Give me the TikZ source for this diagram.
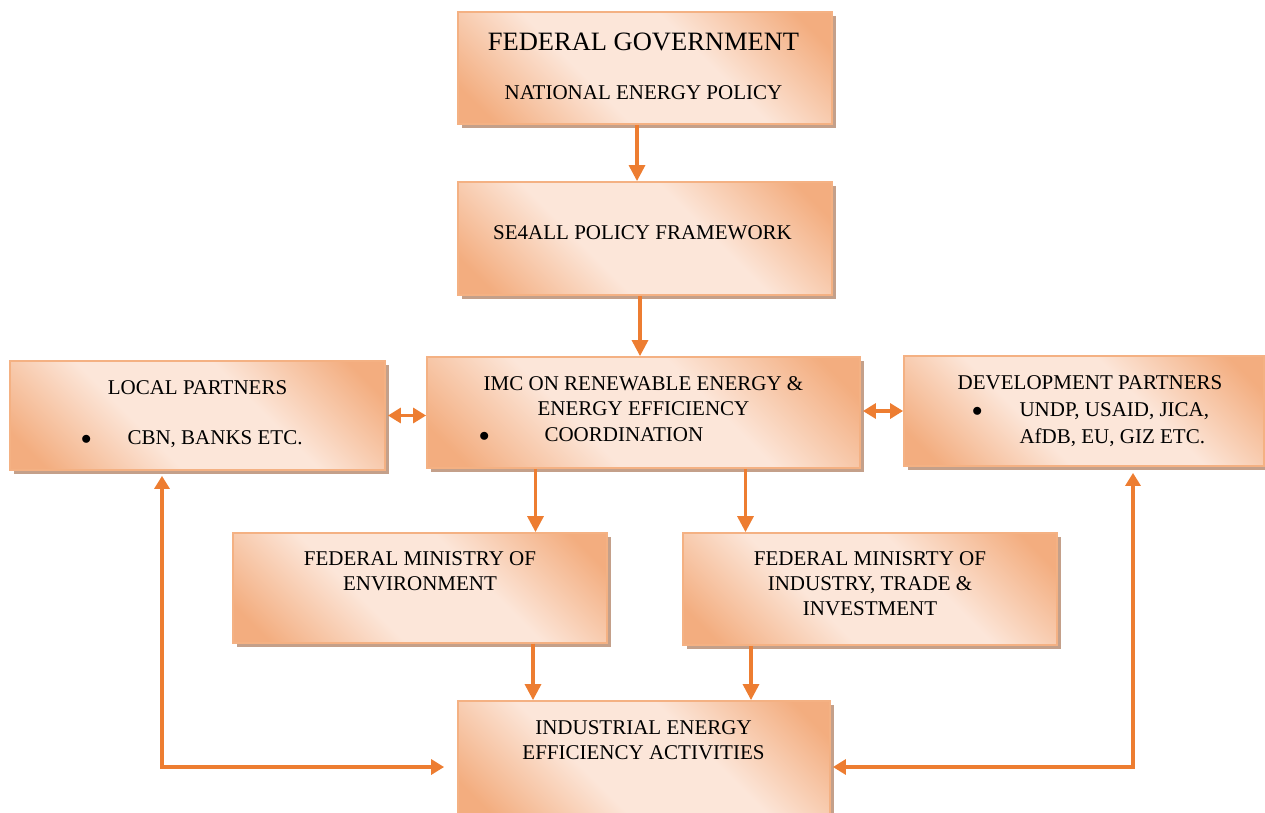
\documentclass[tikz,border=0pt]{standalone}
\usepackage{fontspec}
\setmainfont{Liberation Serif}
\usetikzlibrary{arrows.meta,shadows}
\definecolor{boxorange}{HTML}{F3AD7F}
\definecolor{boxpeach}{HTML}{FCE6D9}
\definecolor{boxline}{HTML}{F4B183}
\definecolor{boxshadow}{HTML}{C4A08A}
\definecolor{arrorange}{HTML}{ED7D31}
\pgfdeclareverticalshading{boxshade}{100bp}{color(0bp)=(boxorange); color(20bp)=(boxorange);
  color(40bp)=(boxpeach); color(60bp)=(boxpeach); color(80bp)=(boxorange); color(100bp)=(boxorange)}
\newcommand{\bodyfont}{\fontsize{21}{25}\selectfont}
\newcommand{\titlefont}{\fontsize{26.5}{30}\selectfont}

\begin{document}
\begin{tikzpicture}[x=1pt,y=-1pt,
  orgbox/.style={draw=boxline,line width=1.8pt,shading=boxshade,shading angle=-45,inner sep=0pt,
    general shadow={fill=boxshadow,shadow xshift=4pt,shadow yshift=-4pt}},
  txt/.style={font=\bodyfont,align=center,inner sep=0pt,anchor=north},
  link/.style={arrorange,line width=3.2pt,-{Triangle[length=16pt,width=16pt]}},
  dlink/.style={arrorange,line width=3.2pt,{Triangle[length=13pt,width=15pt]}-{Triangle[length=13pt,width=15pt]}}]
  \useasboundingbox (0,0) rectangle (1265,812);
  % boxes
  \node[orgbox,minimum width=374pt,minimum height=112pt] (fedgov) at (645,68) {};
  \node[orgbox,minimum width=374pt,minimum height=113pt] (se4all) at (645,238.5) {};
  \node[orgbox,minimum width=375pt,minimum height=109pt] (localp) at (197.5,415.5) {};
  \node[orgbox,minimum width=433pt,minimum height=111pt] (imc) at (643.5,412.5) {};
  \node[orgbox,minimum width=360pt,minimum height=110pt] (devp) at (1084,411) {};
  \node[orgbox,minimum width=374pt,minimum height=110pt] (fedenv) at (420,588) {};
  \node[orgbox,minimum width=374pt,minimum height=112pt] (fedind) at (870,589) {};
  \node[orgbox,minimum width=372pt,minimum height=118pt] (indee) at (644,760) {};
  % texts
  \node[txt,font=\titlefont] (fedgovt) at (643.5,33) {FEDERAL GOVERNMENT};
  \node[txt] (nept) at (643.5,85) {NATIONAL ENERGY POLICY};
  \node[txt] (se4allt) at (642.5,225) {SE4ALL POLICY FRAMEWORK};
  \node[txt] (localpt) at (197.5,380) {LOCAL PARTNERS};
  \node[txt,anchor=north west] (localpb) at (81,430) {$\bullet$\hspace{36pt}CBN, BANKS ETC.};
  \node[txt] (imct) at (643.5,376) {IMC ON RENEWABLE ENERGY \&\\ENERGY EFFICIENCY};
  \node[txt,anchor=north west] (imcb) at (479,427) {$\bullet$\hspace{55pt}COORDINATION};
  \node[txt] (devpt) at (1090,375) {DEVELOPMENT PARTNERS};
  \node[txt,font=\fontsize{21}{27}\selectfont,anchor=base west] (devpb) at (972,416)
    {\begin{tabular}[t]{@{}l@{\hspace{37pt}}l@{}}$\bullet$ & UNDP, USAID, JICA,\\ & AfDB, EU, GIZ ETC.\end{tabular}};
  \node[txt] (fedenvt) at (420,551) {FEDERAL MINISTRY OF\\ENVIRONMENT};
  \node[txt] (fedindt) at (870,551) {FEDERAL MINISRTY OF\\INDUSTRY, TRADE \&\\INVESTMENT};
  \node[txt] (indeet) at (643.5,720) {INDUSTRIAL ENERGY\\EFFICIENCY ACTIVITIES};
  % connectors
  \draw[link] ([xshift=-8pt]fedgov.south) -- ([xshift=-8pt]se4all.north);
  \draw[link] ([xshift=-5pt]se4all.south) -- ([xshift=-5pt]se4all.south |- imc.north);
  \draw[dlink] ([xshift=2pt]localp.east) -- (localp.east -| imc.west);
  \draw[dlink] ([xshift=2pt]devp.west -| imc.east) -- (devp.west);
  \draw[link] ([xshift=-108pt]imc.south) -- ([xshift=-108pt]imc.south |- fedenv.north);
  \draw[link] ([xshift=102pt]imc.south) -- ([xshift=102pt]imc.south |- fedind.north);
  \draw[link] ([xshift=-111pt]indee.north |- fedenv.south) -- ([xshift=-111pt]indee.north);
  \draw[link] ([xshift=107pt]indee.north |- fedind.south) -- ([xshift=107pt]indee.north);
  \coordinate (lcorner) at (162,767);
  \coordinate (rcorner) at (1133,767);
  \draw[dlink] ([yshift=-5pt]localp.south -| lcorner) -- (lcorner) -- ([xshift=-13pt]indee.west |- lcorner);
  \draw[dlink] ([yshift=-6pt]devp.south -| rcorner) -- (rcorner) -- ([xshift=2pt]indee.east |- rcorner);
\end{tikzpicture}
\end{document}
